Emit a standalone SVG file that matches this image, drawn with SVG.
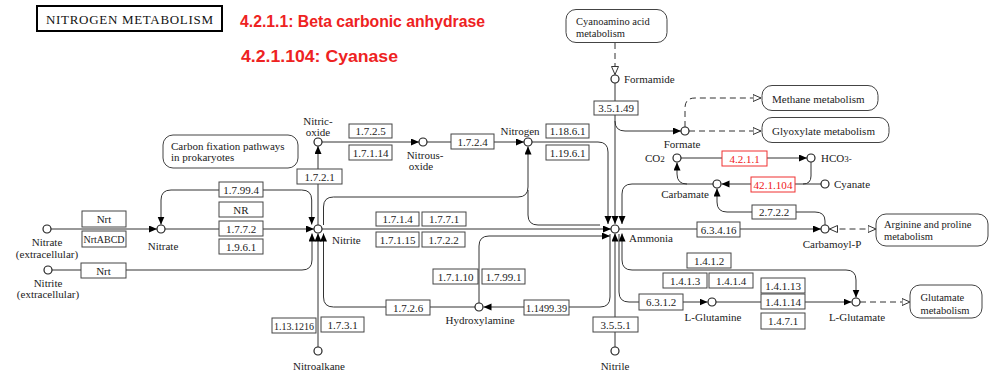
<svg xmlns="http://www.w3.org/2000/svg" width="989" height="374" viewBox="0 0 989 374">
<defs>
<style>
.ln{fill:none;stroke:#333;stroke-width:1}
.dl{fill:none;stroke:#333;stroke-width:1;stroke-dasharray:6,4}
.bx{fill:#fff;stroke:#444;stroke-width:1}
.rbx{fill:#fff;stroke:#f03030;stroke-width:1}
.mp{fill:#fff;stroke:#444;stroke-width:1}
.cp{fill:#fff;stroke:#222;stroke-width:1.2}
.bt{font-family:"Liberation Serif",serif;font-size:11px;fill:#222;text-anchor:middle}
.rt{font-family:"Liberation Serif",serif;font-size:11px;fill:#f02020;text-anchor:middle}
.lb{font-family:"Liberation Serif",serif;font-size:11px;fill:#222}
.mt{font-family:"Liberation Serif",serif;font-size:10.5px;fill:#222}
.lc{font-family:"Liberation Serif",serif;font-size:11px;fill:#222;text-anchor:middle}
.leg{font-family:"Liberation Sans",Arial,sans-serif;font-weight:bold;font-size:16px;fill:#ee2222}
</style>
<marker id="ar" markerUnits="userSpaceOnUse" markerWidth="9" markerHeight="8" refX="8" refY="3.5" orient="auto-start-reverse" viewBox="0 0 9 8"><path d="M0,0 L8,3.5 L0,7 z" fill="#000"/></marker>
<marker id="oa" markerUnits="userSpaceOnUse" markerWidth="10" markerHeight="9" refX="8.5" refY="4" orient="auto-start-reverse" viewBox="0 0 10 9"><path d="M0.5,0.5 L8.5,4 L0.5,7.5 z" fill="#fff" stroke="#333"/></marker>
</defs>
<rect width="989" height="374" fill="#fff"/>

<g id="title">
<rect x="37" y="6" width="185" height="25" fill="#fff" stroke="#000" stroke-width="2"/>
<text x="46" y="24" font-family="'Liberation Serif',serif" font-size="13" fill="#111" textLength="167" lengthAdjust="spacing">NITROGEN METABOLISM</text>
</g>
<g id="legend">
<text class="leg" x="240" y="27" textLength="245" lengthAdjust="spacingAndGlyphs">4.2.1.1: Beta carbonic anhydrase</text>
<text class="leg" x="241" y="61.5" textLength="157" lengthAdjust="spacingAndGlyphs">4.2.1.104: Cyanase</text>
</g>

<g id="connectors">
<path class="ln" d="M51 229 H157" marker-end="url(#ar)"/>
<path class="ln" d="M165 229 H314" marker-end="url(#ar)"/>
<path class="ln" d="M161 224.5 V200 Q161 190 171 190 H301.7 Q311.7 190 311.7 200 V224.5" marker-start="url(#ar)" marker-end="url(#ar)"/>
<path class="ln" d="M52 270 H302 Q312 270 312 260 V233.5" marker-end="url(#ar)"/>
<path class="ln" d="M318 347 V233.5" marker-end="url(#ar)"/>
<path class="ln" d="M318 225 V146" marker-end="url(#ar)"/>
<path class="ln" d="M322 142 H419" marker-end="url(#ar)"/>
<path class="ln" d="M427 142 H524" marker-end="url(#ar)"/>
<path class="ln" d="M532 142 H598 Q608 142 608 152 V224" marker-end="url(#ar)"/>
<path class="ln" d="M323.5 225 V207 Q323.5 197 333.5 197 H518 Q528 197 528 187 V146.5" marker-end="url(#ar)"/>
<path class="ln" d="M528 190 V215 Q528 225 538 225 H600"/>
<path class="ln" d="M322 229 H611" marker-end="url(#ar)"/>
<path class="ln" d="M479 303 V246 Q479 236 489 236 H610" marker-end="url(#ar)"/>
<path class="ln" d="M475 307 H333.5 Q323.5 307 323.5 297 V233.5" marker-end="url(#ar)"/>
<path class="ln" d="M610 234 V297 Q610 307 600 307 H483.5" marker-end="url(#ar)"/>
<path class="ln" d="M615 347 V233.5" marker-end="url(#ar)"/>
<path class="ln" d="M615 83 V224" marker-end="url(#ar)"/>
<path class="ln" d="M615 121 Q615 131 625 131 H681" marker-end="url(#ar)"/>
<path class="dl" d="M615 43 V74.5" marker-end="url(#oa)"/>
<path class="dl" d="M685 127 V108 Q685 98 695 98 H761" marker-end="url(#oa)"/>
<path class="dl" d="M689 131 H761" marker-end="url(#oa)"/>
<path class="ln" d="M681 158 H807" marker-end="url(#ar)"/>
<path class="ln" d="M713 184 H687 Q677 184 677 174 V162.5" marker-end="url(#ar)"/>
<path class="ln" d="M821 184 H721.5" marker-end="url(#ar)"/>
<path class="ln" d="M811 162 V176 Q811 184 803 184"/>
<path class="ln" d="M687 184 H632 Q622 184 622 194 V224" marker-end="url(#ar)"/>
<path class="ln" d="M619 229 H821" marker-end="url(#ar)"/>
<path class="ln" d="M825 225 V221 Q825 212 815 212 H727 Q717 212 717 202 V188.5" marker-end="url(#ar)"/>
<path class="dl" d="M829.5 229 H876" marker-start="url(#oa)" marker-end="url(#oa)"/>
<path class="ln" d="M622 233.5 V260 Q622 270 632 270 H846 Q856 270 856 280 V297.5" marker-start="url(#ar)" marker-end="url(#ar)"/>
<path class="ln" d="M619 234 V292 Q619 302 629 302 H707.5" marker-end="url(#ar)"/>
<path class="ln" d="M716 302 H851.5" marker-end="url(#ar)"/>
<path class="dl" d="M860 302 H910" marker-end="url(#oa)"/>
</g>

<g id="maps">
<g id="map-carbon"><rect class="mp" x="163" y="135" width="135" height="33" rx="10"/><text class="lb" x="171" y="150">Carbon fixation pathways</text><text class="lb" x="171" y="161">in prokaryotes</text></g>
<g id="map-cyanoamino"><rect class="mp" x="566" y="9.5" width="101" height="33" rx="10"/><text class="mt" x="576" y="25">Cyanoamino acid</text><text class="mt" x="576" y="36.5">metabolism</text></g>
<g id="map-methane"><rect class="mp" x="762" y="85.5" width="116" height="25" rx="10"/><text class="lb" x="772" y="103">Methane metabolism</text></g>
<g id="map-glyoxylate"><rect class="mp" x="762" y="117.5" width="127" height="25" rx="10"/><text class="lb" x="772" y="135">Glyoxylate metabolism</text></g>
<g id="map-arginine"><rect class="mp" x="876" y="214" width="112" height="32" rx="10"/><text class="mt" x="884" y="228">Arginine and proline</text><text class="mt" x="884" y="239.5">metabolism</text></g>
<g id="map-glutamate"><rect class="mp" x="910" y="285" width="72" height="33" rx="10"/><text class="mt" x="920.5" y="301">Glutamate</text><text class="mt" x="920.5" y="313.5">metabolism</text></g>
</g>

<g id="enzymes">
<g id="e-nrt1"><rect class="bx" x="82" y="211" width="44" height="16"/><text class="bt" x="104" y="223">Nrt</text></g>
<g id="e-nrtabcd"><rect class="bx" x="82" y="231" width="44" height="16"/><text class="bt" x="104" y="243" textLength="41" lengthAdjust="spacingAndGlyphs">NrtABCD</text></g>
<g id="e-nrt2"><rect class="bx" x="81" y="263" width="45" height="15"/><text class="bt" x="103.5" y="274.5">Nrt</text></g>
<g id="e-179994"><rect class="bx" x="219" y="182" width="44" height="15"/><text class="bt" x="241" y="193.5">1.7.99.4</text></g>
<g id="e-nr"><rect class="bx" x="219" y="202" width="44" height="15"/><text class="bt" x="241" y="213.5">NR</text></g>
<g id="e-1772"><rect class="bx" x="219" y="221" width="44" height="15"/><text class="bt" x="241" y="232.5">1.7.7.2</text></g>
<g id="e-1961"><rect class="bx" x="219" y="239" width="44" height="15"/><text class="bt" x="241" y="250.5">1.9.6.1</text></g>
<g id="e-1721"><rect class="bx" x="297" y="169" width="45" height="15"/><text class="bt" x="319.5" y="180.5">1.7.2.1</text></g>
<g id="e-1725"><rect class="bx" x="349" y="124" width="43" height="14"/><text class="bt" x="370.5" y="135">1.7.2.5</text></g>
<g id="e-17114"><rect class="bx" x="349" y="145" width="43" height="15"/><text class="bt" x="370.5" y="156.5">1.7.1.14</text></g>
<g id="e-1724"><rect class="bx" x="451" y="134" width="43" height="15"/><text class="bt" x="472.5" y="145.5">1.7.2.4</text></g>
<g id="e-11861"><rect class="bx" x="546" y="124" width="43" height="14"/><text class="bt" x="567.5" y="135">1.18.6.1</text></g>
<g id="e-11961"><rect class="bx" x="546" y="145" width="43" height="15"/><text class="bt" x="567.5" y="156.5">1.19.6.1</text></g>
<g id="e-1714"><rect class="bx" x="376" y="212" width="43" height="14"/><text class="bt" x="397.5" y="223">1.7.1.4</text></g>
<g id="e-1771"><rect class="bx" x="422" y="212" width="44" height="14"/><text class="bt" x="444" y="223">1.7.7.1</text></g>
<g id="e-17115"><rect class="bx" x="376" y="232" width="43" height="15"/><text class="bt" x="397.5" y="243.5">1.7.1.15</text></g>
<g id="e-1722"><rect class="bx" x="422" y="232" width="43" height="15"/><text class="bt" x="443.5" y="243.5">1.7.2.2</text></g>
<g id="e-17110"><rect class="bx" x="433" y="269" width="45" height="15"/><text class="bt" x="455.5" y="280.5">1.7.1.10</text></g>
<g id="e-17991"><rect class="bx" x="482" y="269" width="43" height="15"/><text class="bt" x="503.5" y="280.5">1.7.99.1</text></g>
<g id="e-1726"><rect class="bx" x="386" y="300" width="44" height="15"/><text class="bt" x="408" y="311.5">1.7.2.6</text></g>
<g id="e-1149939"><rect class="bx" x="524" y="300" width="45" height="15"/><text class="bt" x="546.5" y="311.5" textLength="41" lengthAdjust="spacingAndGlyphs">1.1499.39</text></g>
<g id="e-1131216"><rect class="bx" x="272" y="318" width="44" height="15"/><text class="bt" x="294" y="329.5" textLength="40" lengthAdjust="spacingAndGlyphs">1.13.1216</text></g>
<g id="e-1731"><rect class="bx" x="321" y="317" width="43" height="15"/><text class="bt" x="342.5" y="328.5">1.7.3.1</text></g>
<g id="e-35149"><rect class="bx" x="594" y="101" width="44" height="14"/><text class="bt" x="616" y="112">3.5.1.49</text></g>
<g id="e-3551"><rect class="bx" x="593" y="317" width="45" height="15"/><text class="bt" x="615.5" y="328.5">3.5.5.1</text></g>
<g id="e-4211"><rect class="rbx" x="722" y="151" width="45" height="15"/><text class="rt" x="744.5" y="162.5">4.2.1.1</text></g>
<g id="e-421104"><rect class="rbx" x="751" y="177" width="44" height="15"/><text class="rt" x="773" y="188.5" textLength="39" lengthAdjust="spacingAndGlyphs">42.1.104</text></g>
<g id="e-2722"><rect class="bx" x="752" y="205" width="44" height="14"/><text class="bt" x="774" y="216">2.7.2.2</text></g>
<g id="e-63416"><rect class="bx" x="697" y="222" width="43" height="15"/><text class="bt" x="718.5" y="233.5">6.3.4.16</text></g>
<g id="e-1412"><rect class="bx" x="687" y="253" width="44" height="15"/><text class="bt" x="709" y="264.5">1.4.1.2</text></g>
<g id="e-1413"><rect class="bx" x="663" y="273" width="44" height="15"/><text class="bt" x="685" y="284.5">1.4.1.3</text></g>
<g id="e-1414"><rect class="bx" x="709" y="273" width="44" height="15"/><text class="bt" x="731" y="284.5">1.4.1.4</text></g>
<g id="e-6312"><rect class="bx" x="639" y="294" width="44" height="16"/><text class="bt" x="661" y="306">6.3.1.2</text></g>
<g id="e-14113"><rect class="bx" x="761" y="278" width="44" height="15"/><text class="bt" x="783" y="289.5">1.4.1.13</text></g>
<g id="e-14114"><rect class="bx" x="761" y="294" width="44" height="15"/><text class="bt" x="783" y="305.5">1.4.1.14</text></g>
<g id="e-1471"><rect class="bx" x="761" y="313" width="44" height="16"/><text class="bt" x="783" y="325">1.4.7.1</text></g>
</g>

<g id="compounds">
<g id="c-nitrate-ext"><circle class="cp" cx="47" cy="229" r="4"/><text class="lc" x="47" y="245.5">Nitrate</text><text class="lc" x="47" y="257.5">(extracellular)</text></g>
<g id="c-nitrate"><circle class="cp" cx="161" cy="229" r="4"/><text class="lc" x="163" y="250">Nitrate</text></g>
<g id="c-nitrite-ext"><circle class="cp" cx="48" cy="270" r="4"/><text class="lc" x="48" y="287">Nitrite</text><text class="lc" x="48" y="297.5">(extracellular)</text></g>
<g id="c-nitrite"><circle class="cp" cx="318" cy="229" r="4"/><text class="lb" x="332" y="244">Nitrite</text></g>
<g id="c-nitric-oxide"><circle class="cp" cx="318" cy="142" r="4"/><text class="lc" x="318" y="125">Nitric-</text><text class="lc" x="318" y="135.5">oxide</text></g>
<g id="c-nitrous-oxide"><circle class="cp" cx="423" cy="142" r="4"/><text class="lc" x="425" y="158.5">Nitrous-</text><text class="lc" x="421" y="170">oxide</text></g>
<g id="c-nitrogen"><circle class="cp" cx="528" cy="142" r="4"/><text class="lc" x="520" y="135">Nitrogen</text></g>
<g id="c-ammonia"><circle class="cp" cx="615" cy="229" r="4"/><text class="lb" x="629" y="242">Ammonia</text></g>
<g id="c-hydroxylamine"><circle class="cp" cx="479" cy="307" r="4"/><text class="lc" x="480" y="324">Hydroxylamine</text></g>
<g id="c-nitroalkane"><circle class="cp" cx="318" cy="351" r="4"/><text class="lc" x="319" y="369.5">Nitroalkane</text></g>
<g id="c-nitrile"><circle class="cp" cx="615" cy="351" r="4"/><text class="lc" x="615" y="369.5">Nitrile</text></g>
<g id="c-formamide"><circle class="cp" cx="615" cy="79" r="4"/><text class="lb" x="624" y="82.5">Formamide</text></g>
<g id="c-formate"><circle class="cp" cx="685" cy="131" r="4"/><text class="lc" x="682" y="147.5">Formate</text></g>
<g id="c-co2"><circle class="cp" cx="677" cy="158" r="4"/><text class="lb" x="645" y="162">CO<tspan font-size="9">2</tspan></text></g>
<g id="c-hco3"><circle class="cp" cx="811" cy="158" r="4"/><text class="lb" x="821" y="162">HCO<tspan font-size="9">3-</tspan></text></g>
<g id="c-carbamate"><circle class="cp" cx="717" cy="184" r="4"/><text class="lc" x="685" y="198">Carbamate</text></g>
<g id="c-cyanate"><circle class="cp" cx="825" cy="184" r="4"/><text class="lb" x="834" y="188">Cyanate</text></g>
<g id="c-carbamoylp"><circle class="cp" cx="825" cy="229" r="4"/><text class="lc" x="832" y="247.5">Carbamoyl-P</text></g>
<g id="c-lglutamine"><circle class="cp" cx="712" cy="302" r="4"/><text class="lc" x="713" y="321">L-Glutamine</text></g>
<g id="c-lglutamate"><circle class="cp" cx="856" cy="302" r="4"/><text class="lc" x="857" y="321">L-Glutamate</text></g>
</g>
</svg>
